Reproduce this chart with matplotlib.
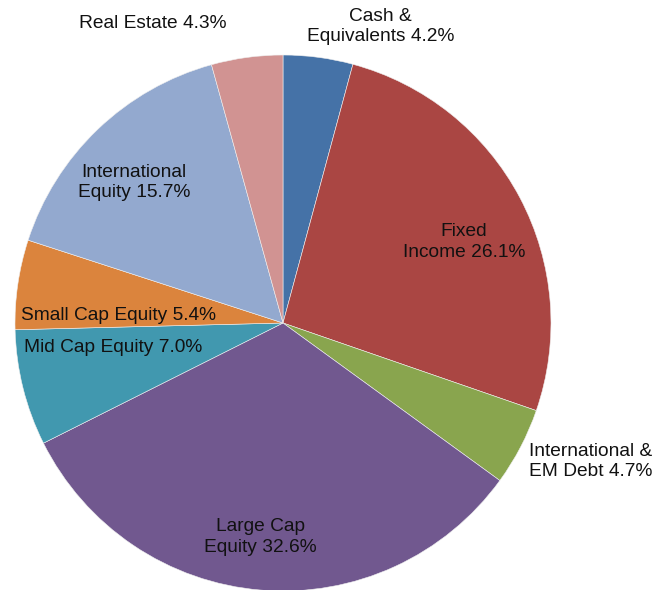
import numpy as np
import matplotlib.pyplot as plt

plt.rcParams['font.family'] = ['Liberation Sans', 'DejaVu Sans']

labels = ['Cash &\nEquivalents 4.2%', 'Fixed\nIncome 26.1%', 'International &\nEM Debt 4.7%',
          'Large Cap\nEquity 32.6%', 'Mid Cap Equity 7.0%', 'Small Cap Equity 5.4%',
          'International\nEquity 15.7%', 'Real Estate 4.3%']
shares = [4.2, 26.1, 4.7, 32.6, 7.0, 5.4, 15.7, 4.3]
colors = ['#4572A7', '#AA4643', '#89A54E', '#71588F', '#4198AF', '#DB843D', '#93A9CF', '#D19392']

# label placement: radius (in pie radii), angle nudge (deg), alignment
lab_r = [1.164, 0.74, 1.052, 0.803, 0.639, 0.613, 0.765, 1.22]
lab_dt = [-10.7, -3.8, -1.8, -1.4, -5.9, 5.5, 3, 15.7]
lab_ha = ['center', 'center', 'left', 'center', 'center', 'center', 'center', 'center']

fig = plt.figure(figsize=(6.63, 5.90), dpi=100)
ax = fig.add_axes([0, 0, 1, 1])
R = 268.0
cx, cy = 283.0, 323.0

wedges, _ = ax.pie(shares, colors=colors, startangle=90, counterclock=False,
                   radius=1.0, frame=True,
                   wedgeprops=dict(edgecolor='#f0f0f0', linewidth=0.4))
ax.set_xlim(-cx / R, (663 - cx) / R)
ax.set_ylim(-(590 - cy) / R, cy / R)
ax.set_aspect('auto')
ax.axis('off')

for w, lab, r, dt, ha in zip(wedges, labels, lab_r, lab_dt, lab_ha):
    mid = np.deg2rad((w.theta1 + w.theta2) / 2 + dt)
    x, y = r * np.cos(mid), r * np.sin(mid)
    ax.text(x, y, lab, ha=ha, va='center', fontsize=13.8, color='#111111',
            multialignment='center' if ha == 'center' else 'left', linespacing=1.25)

fig.savefig('out.png', dpi=100)
